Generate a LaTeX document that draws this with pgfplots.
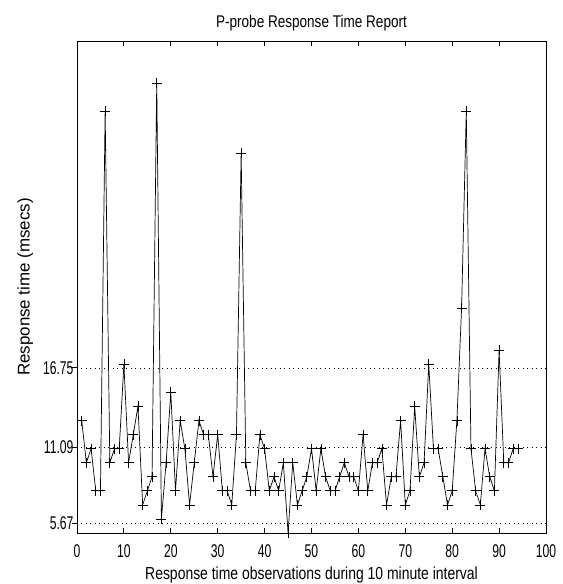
\documentclass[border=0pt]{standalone}
\usepackage{fontspec}
\setmainfont{Liberation Sans}
\newfontfamily\narrowfont{Liberation Sans}[FakeStretch=0.8]
\newfontfamily\ticknarrow{Liberation Sans}[FakeStretch=0.66]
\usepackage{pgfplots}
\pgfplotsset{compat=1.18}
\begin{document}
\begin{tikzpicture}
\begin{axis}[
  name=ax,
  scale only axis,
  width=469bp, height=492bp,
  xmin=0, xmax=100, ymin=5, ymax=40,
  clip=false,
  xtick={0,10,...,100},
  ytick={5.67,11.09,16.75},
  yticklabels={5.67,11.09,16.75},
  /pgf/number format/assume math mode=true,
  ymajorgrids,
  grid style={black, line width=0.6bp, dash pattern=on 1bp off 3.5bp},
  axis line style={line width=0.8bp},
  tick style={black, line width=0.8bp},
  major tick length=5bp,
  xtick pos=both, xtick align=inside,
  ytick pos=left, ytick align=outside,
  ticklabel style={font=\ticknarrow\fontsize{18.5}{18.5}\selectfont},
  xticklabel style={yshift=-8bp},
  yticklabel style={xshift=5bp},
  title={P-probe Response Time Report},
  title style={font=\narrowfont\fontsize{17}{17}\selectfont, yshift=0bp},
  xlabel={Response time observations during 10 minute interval},
  xlabel style={font=\narrowfont\fontsize{17.5}{17.5}\selectfont, yshift=-2bp},
  ylabel={Response time (msecs)},
  ylabel style={font=\fontsize{17}{17}\selectfont, yshift=3bp},
]
\addplot[black, line width=0.7bp, mark=+, mark size=5bp, mark options={line width=0.7bp}] coordinates {
(1,13) (2,10) (3,11) (4,8) (5,8) (6,35) (7,10) (8,11) (9,11) (10,17)
(11,10) (12,12) (13,14) (14,7) (15,8) (16,9) (17,37) (18,6) (19,10) (20,15)
(21,8) (22,13) (23,11) (24,7) (25,10) (26,13) (27,12) (28,12) (29,9) (30,12)
(31,8) (32,8) (33,7) (34,12) (35,32) (36,10) (37,8) (38,8) (39,12) (40,11)
(41,8) (42,9) (43,8) (44,10) (45,5) (46,10) (47,7) (48,8) (49,9) (50,11)
(51,8) (52,11) (53,9) (54,8) (55,8) (56,9) (57,10) (58,9) (59,9) (60,8)
(61,12) (62,8) (63,10) (64,10) (65,11) (66,7) (67,9) (68,9) (69,13) (70,7)
(71,8) (72,14) (73,9) (74,10) (75,17) (76,11) (77,11) (78,9) (79,7) (80,8)
(81,13) (82,21) (83,35) (84,11) (85,8) (86,7) (87,11) (88,9) (89,8) (90,18)
(91,10) (92,10) (93,11) (94,11)
};
\end{axis}
\pgfresetboundingbox
\path ([shift={(-77bp,-51bp)}]ax.south west) rectangle ([shift={(17bp,41bp)}]ax.north east);
\end{tikzpicture}
\end{document}
